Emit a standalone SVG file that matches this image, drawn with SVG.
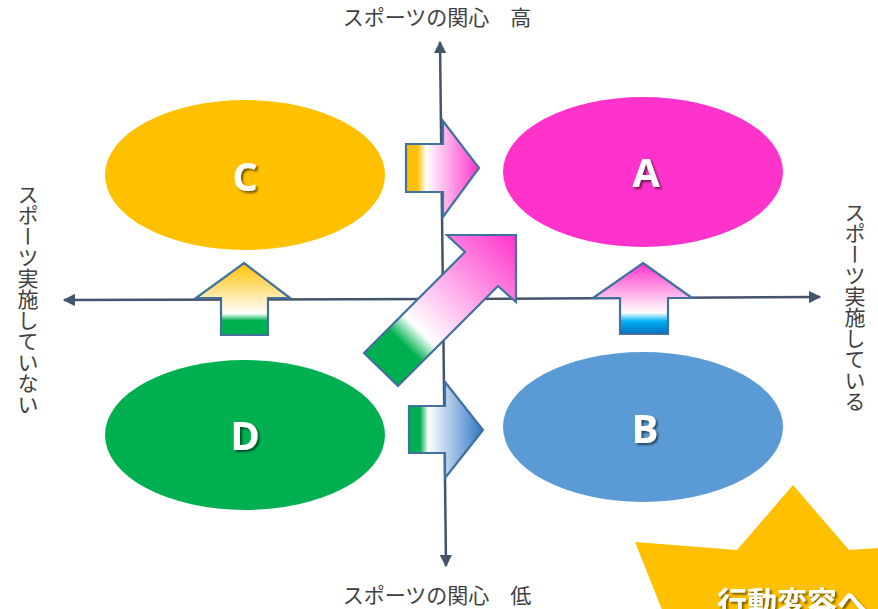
<svg xmlns="http://www.w3.org/2000/svg" width="878" height="609" viewBox="0 0 878 609">
<style>
.ax{stroke:#44546A;stroke-width:2.5;fill:none}
.lbl{font-family:"Noto Sans CJK JP","Noto Sans",sans-serif;font-size:21px;fill:#404040}
.big{font-family:"Open Sans","Noto Sans",sans-serif;font-weight:bold;font-size:40px;fill:#fff;text-anchor:middle}
.arr{stroke:#41719C;stroke-width:2.2;stroke-linejoin:miter}
.vt{writing-mode:vertical-rl}
</style>
<defs>
<marker id="ah" viewBox="0 0 10 10" refX="9" refY="5" markerWidth="5" markerHeight="5" orient="auto" markerUnits="strokeWidth">
<path d="M0,0 L10,5 L0,10 z" fill="#44546A"/>
</marker>
<filter id="sh" x="-30%" y="-30%" width="160%" height="160%">
<feDropShadow dx="2" dy="2" stdDeviation="1.2" flood-color="#000" flood-opacity="0.55"/>
</filter>
<linearGradient id="gCA" x1="406" y1="0" x2="479" y2="0" gradientUnits="userSpaceOnUse">
<stop offset="0" stop-color="#FFC000"/><stop offset="0.15" stop-color="#FFC000"/><stop offset="0.28" stop-color="#FFFFFF"/><stop offset="1" stop-color="#FF33CC"/>
</linearGradient>
<linearGradient id="gDB" x1="409" y1="0" x2="483" y2="0" gradientUnits="userSpaceOnUse">
<stop offset="0" stop-color="#00B050"/><stop offset="0.15" stop-color="#00B050"/><stop offset="0.26" stop-color="#FFFFFF"/><stop offset="1" stop-color="#2E75C6"/>
</linearGradient>
<linearGradient id="gDC" x1="0" y1="263" x2="0" y2="335" gradientUnits="userSpaceOnUse">
<stop offset="0" stop-color="#FFC000"/><stop offset="0.7" stop-color="#FFFFFF"/><stop offset="0.8" stop-color="#00B050"/><stop offset="1" stop-color="#00B050"/>
</linearGradient>
<linearGradient id="gBA" x1="0" y1="263" x2="0" y2="334" gradientUnits="userSpaceOnUse">
<stop offset="0" stop-color="#FF33CC"/><stop offset="0.7" stop-color="#FFFFFF"/><stop offset="0.82" stop-color="#00B0F0"/><stop offset="1" stop-color="#0070C0"/>
</linearGradient>
<linearGradient id="gDA" x1="381" y1="370" x2="516" y2="235" gradientUnits="userSpaceOnUse">
<stop offset="0" stop-color="#00B050"/><stop offset="0.18" stop-color="#00B050"/><stop offset="0.29" stop-color="#FFFFFF"/><stop offset="1" stop-color="#FF33CC"/>
</linearGradient>
</defs>

<rect width="878" height="609" fill="#fff"/>

<g id="star">
<polygon points="793,485 849,550 960,542 960,700 690,680 635,542 737,550" fill="#FFC000"/>
<text x="717" y="613" font-family="Noto Sans CJK JP,sans-serif" font-weight="bold" font-size="30" fill="#fff" filter="url(#sh)">行動変容へ</text>
</g>

<g id="connectors">
<line class="ax" x1="443" y1="299" x2="440" y2="42" marker-end="url(#ah)"/>
<line class="ax" x1="443" y1="299" x2="446" y2="566" marker-end="url(#ah)"/>
<line class="ax" x1="443" y1="299" x2="64" y2="300" marker-end="url(#ah)"/>
<line class="ax" x1="443" y1="299" x2="820" y2="297" marker-end="url(#ah)"/>
</g>

<g id="nodeC">
<ellipse cx="245" cy="175" rx="140" ry="75" fill="#FFC000"/>
<text class="big" x="245" y="191" filter="url(#sh)">C</text>
</g>
<g id="nodeA">
<ellipse cx="643" cy="172" rx="140" ry="75" fill="#FF33CC"/>
<text class="big" x="646" y="187" filter="url(#sh)">A</text>
</g>
<g id="nodeD">
<ellipse cx="245" cy="435" rx="140" ry="75" fill="#00B050"/>
<text class="big" x="245" y="450" filter="url(#sh)">D</text>
</g>
<g id="nodeB">
<ellipse cx="643" cy="427" rx="140" ry="75" fill="#5B9BD5"/>
<text class="big" x="645" y="443" filter="url(#sh)">B</text>
</g>

<g id="arrows">
<polygon class="arr" fill="url(#gCA)" points="406,144 443,144 443,121 479,168 443,217 443,192 406,192"/>
<polygon class="arr" fill="url(#gDB)" points="409,406 445,406 445,382 483,430 445,478 445,453 409,453"/>
<polygon class="arr" fill="url(#gDC)" points="244,263 290,298 268,298 268,335 221,335 221,298 196,298"/>
<polygon class="arr" fill="url(#gBA)" points="643,263 692,298 668,298 668,334 620,334 620,298 593,298"/>
<polygon class="arr" fill="url(#gDA)" points="364,353 465,252 447,235 516,235 516,302 498,286 398,386"/>
</g>

<g id="labels">
<text class="lbl" x="437" y="25" text-anchor="middle">スポーツの関心　高</text>
<text class="lbl" x="437" y="603" text-anchor="middle">スポーツの関心　低</text>
<text class="lbl vt" x="28" y="184">スポーツ実施していない</text>
<text class="lbl vt" x="855" y="202">スポーツ実施している</text>
</g>
</svg>
